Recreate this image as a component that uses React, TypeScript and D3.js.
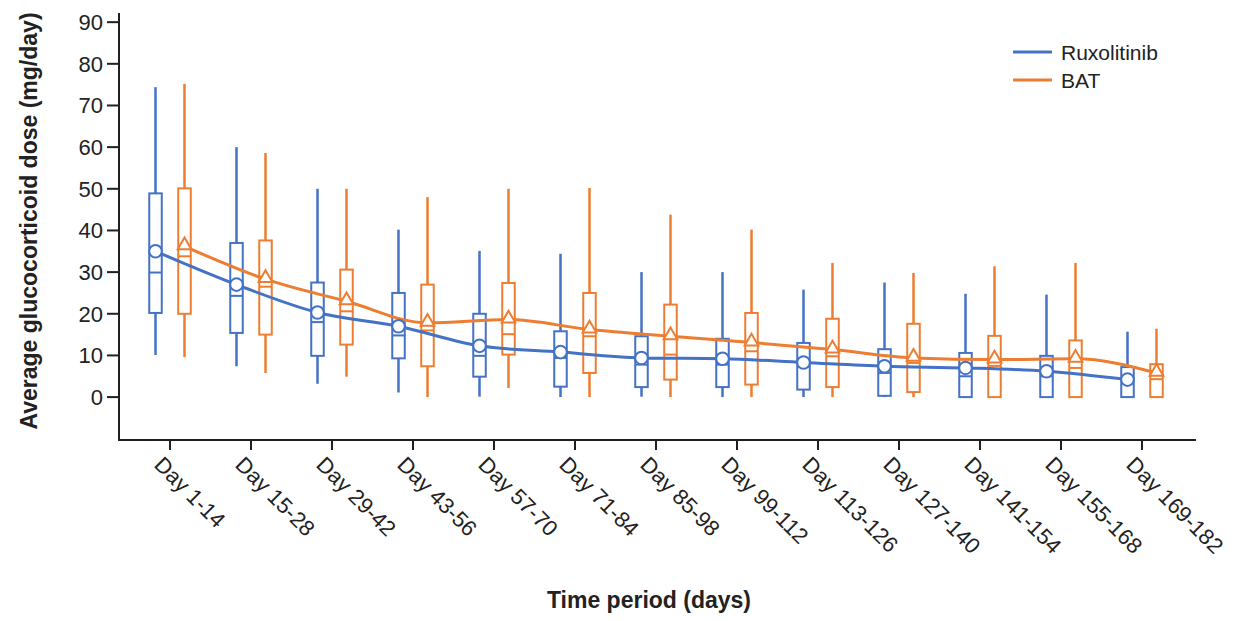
import React from "react";
import * as d3 from "d3";

// time periods on the x axis
const categories = [
  "Day 1-14", "Day 15-28", "Day 29-42", "Day 43-56", "Day 57-70", "Day 71-84", "Day 85-98",
  "Day 99-112", "Day 113-126", "Day 127-140", "Day 141-154", "Day 155-168", "Day 169-182",
];

// Ruxolitinib box stats (mg/day)
const ruxMin = [10.1, 7.4, 3.2, 1.1, 0.1, 0, 0.1, 0, 0, 0, 0, 0, 0];
const ruxQ1 = [20.2, 15.4, 9.9, 9.3, 4.9, 2.5, 2.4, 2.4, 1.8, 0.3, 0, 0, 0];
const ruxMedian = [29.9, 24.3, 18, 14.8, 9.9, 9.4, 7.8, 7.8, 7.4, 5.8, 5, 5, 4.6];
const ruxQ3 = [48.9, 37, 27.5, 25, 20, 15.8, 14.6, 14, 13, 11.5, 10.6, 9.9, 7.2];
const ruxMax = [74.4, 60, 50, 40.2, 35.1, 34.4, 30, 30, 25.8, 27.5, 24.8, 24.6, 15.7];
const ruxMean = [35, 27, 20.3, 17, 12.3, 10.8, 9.4, 9.2, 8.3, 7.4, 7, 6.2, 4.2];

// BAT box stats (mg/day)
const batMin = [9.6, 5.8, 4.9, 0, 2.2, 0, 0, 0, 0, 0, 0, 0, 0];
const batQ1 = [20, 15, 12.6, 7.4, 10.2, 5.8, 4.2, 3, 2.4, 1.2, 0, 0, 0];
const batMedian = [33.8, 26.5, 20.6, 16, 15.1, 14.6, 10.2, 11, 9.8, 8.2, 7.5, 7, 4.3];
const batQ3 = [50.1, 37.6, 30.6, 27, 27.4, 25, 22.2, 20.2, 18.8, 17.6, 14.7, 13.6, 7.9];
const batMax = [75.2, 58.6, 50, 48, 50, 50.2, 43.8, 40.2, 32.2, 29.8, 31.4, 32.2, 16.4];
const batMean = [36.2, 28.3, 23, 17.8, 18.6, 16.2, 14.6, 13.1, 11.4, 9.4, 9, 9.2, 5.8];

const yTicks = [0, 10, 20, 30, 40, 50, 60, 70, 80, 90];

const BLUE = "#4472C4";
const ORANGE = "#ED7D31";
const AXIS = "#231f20";
const FONT = "'Liberation Sans', Arial, Helvetica, sans-serif";

const App = () => {
  const x = d3.scalePoint().domain(categories).range([170, 1142]);
  const y = d3.scaleLinear().domain([-10.3, 92.2]).range([440, 13]);
  const axisLeft = 119, axisRight = 1196, axisBottom = 440;
  const boxW = 12.5;

  const series = [
    { name: "Ruxolitinib", color: BLUE, off: -14.5, min: ruxMin, q1: ruxQ1, med: ruxMedian, q3: ruxQ3, max: ruxMax, mean: ruxMean, marker: "circle" },
    { name: "BAT", color: ORANGE, off: 14.5, min: batMin, q1: batQ1, med: batMedian, q3: batQ3, max: batMax, mean: batMean, marker: "triangle" },
  ];

  const tri = d3.symbol().type(d3.symbolTriangle).size(80)();

  return (
    <svg width={1248} height={621} style={{ position: "absolute", left: 0, top: 0 }} fontFamily={FONT}>
      <rect width={1248} height={621} fill="#fff" />

      {/* boxes */}
      {series.map((s) => (
        <g key={s.name + "box"} stroke={s.color} fill="none">
          {categories.map((c, i) => {
            const cx = (x(c) as number) + s.off;
            return (
              <g key={c}>
                <line x1={cx} x2={cx} y1={y(s.max[i])} y2={y(s.q3[i])} strokeWidth={2.5} />
                <line x1={cx} x2={cx} y1={y(s.q1[i])} y2={y(s.min[i])} strokeWidth={2.5} />
                <rect x={cx - boxW / 2} y={y(s.q3[i])} width={boxW} height={y(s.q1[i]) - y(s.q3[i])} strokeWidth={2} />
                <line x1={cx - boxW / 2} x2={cx + boxW / 2} y1={y(s.med[i])} y2={y(s.med[i])} strokeWidth={2} />
              </g>
            );
          })}
        </g>
      ))}

      {/* mean lines */}
      {series.map((s) => {
        const pts = s.mean.map((m, i) => [(x(categories[i]) as number) + s.off, y(m)] as [number, number]);
        const path = d3.line().curve(d3.curveMonotoneX)(pts) || "";
        return <path key={s.name + "line"} d={path} fill="none" stroke={s.color} strokeWidth={3} />;
      })}

      {/* mean markers */}
      {series.map((s) => (
        <g key={s.name + "mk"}>
          {s.mean.map((m, i) => {
            const cx = (x(categories[i]) as number) + s.off;
            return s.marker === "circle" ? (
              <circle key={i} cx={cx} cy={y(m)} r={6.3} fill="#fff" stroke={s.color} strokeWidth={2} />
            ) : (
              <path key={i} d={tri || ""} transform={`translate(${cx},${y(m) - 1})`} fill="#fff" stroke={s.color} strokeWidth={2} />
            );
          })}
        </g>
      ))}

      {/* y axis */}
      <line x1={axisLeft} x2={axisLeft} y1={13} y2={axisBottom + 1} stroke={AXIS} strokeWidth={2} />
      {yTicks.map((t) => (
        <g key={t}>
          <line x1={axisLeft - 12} x2={axisLeft} y1={y(t)} y2={y(t)} stroke={AXIS} strokeWidth={2} />
          <text x={axisLeft - 16} y={y(t)} dy="0.36em" textAnchor="end" fontSize={22} fill="#222">{t}</text>
        </g>
      ))}

      {/* x axis */}
      <line x1={axisLeft - 1} x2={axisRight} y1={axisBottom} y2={axisBottom} stroke={AXIS} strokeWidth={2} />
      {categories.map((c) => {
        const cx = x(c) as number;
        return (
          <g key={c}>
            <line x1={cx} x2={cx} y1={axisBottom} y2={axisBottom + 10} stroke={AXIS} strokeWidth={2} />
            <text transform={`translate(${cx - 17},466) rotate(45)`} fontSize={22} fill="#222">{c}</text>
          </g>
        );
      })}

      {/* axis titles */}
      <text x={649} y={608} textAnchor="middle" fontSize={23} fontWeight="bold" fill="#222">Time period (days)</text>
      <text transform="translate(37,221) rotate(-90)" textAnchor="middle" fontSize={23} fontWeight="bold" fill="#222">
        Average glucocorticoid dose (mg/day)
      </text>

      {/* legend */}
      {series.map((s, i) => (
        <g key={s.name + "lg"} transform={`translate(1013,${52 + i * 28})`}>
          <line x1={0} x2={39} y1={0} y2={0} stroke={s.color} strokeWidth={3} />
          <text x={48} y={0} dy="0.36em" fontSize={21} fill="#222">{s.name}</text>
        </g>
      ))}
    </svg>
  );
};

export default App;
